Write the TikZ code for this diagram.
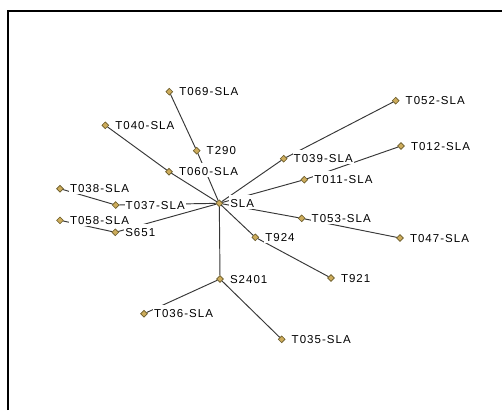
\documentclass[tikz,border=0pt]{standalone}
\usepackage{fontspec}
\newfontfamily\tagfont[LetterSpace=9]{Liberation Sans}
\usetikzlibrary{positioning, shapes.geometric, backgrounds}
\definecolor{dotfill}{RGB}{205,172,92}
\definecolor{dotline}{RGB}{105,90,40}
\definecolor{linkgray}{RGB}{55,55,55}

\begin{document}
\begin{tikzpicture}[
    x=1pt, y=-1pt,
    dot/.style={diamond, draw=dotline, fill=dotfill, line width=0.6pt,
                minimum size=7pt, inner sep=0pt},
    tag/.style={anchor=base west, yshift=-4.2pt, fill=white,
                font=\tagfont\fontsize{11.5}{12}\selectfont,
                inner xsep=1pt, inner ysep=0.5pt,
                text height=12pt, text depth=0.5pt},
    link/.style={draw=linkgray, line width=0.95pt}
  ]
  \useasboundingbox (0,0) rectangle (502,410);
  \draw[line width=2pt] (7.7,410) -- (7.7,11) -- (502,11);

  \node[dot] (sla)   at (219.3,203.3) {};
  \node[dot] (t069)  at (169.3,91.7)  {};
  \node[dot] (t040)  at (105.3,125.3) {};
  \node[dot] (t290)  at (196.7,150.7) {};
  \node[dot] (t060)  at (169,171.7)   {};
  \node[dot] (t038)  at (60,188.7)    {};
  \node[dot] (t037)  at (115.7,205)   {};
  \node[dot] (t058)  at (60,220.3)    {};
  \node[dot] (s651)  at (115.3,232.3) {};
  \node[dot] (t052)  at (395.7,100.7) {};
  \node[dot] (t012)  at (401,146)     {};
  \node[dot] (t039)  at (283.7,158.7) {};
  \node[dot] (t011)  at (304.3,179.7) {};
  \node[dot] (t053)  at (301.7,218.3) {};
  \node[dot] (t047)  at (400,238)     {};
  \node[dot] (t924)  at (255.3,237.3) {};
  \node[dot] (t921)  at (331,278)     {};
  \node[dot] (s2401) at (220,279)     {};
  \node[dot] (t036)  at (144,313.7)   {};
  \node[dot] (t035)  at (281.7,339.3) {};

  % links sit under the dots and the white label boxes
  \begin{pgfonlayer}{background}
    \path[link] (t069) -- (t290) -- (sla);
    \path[link] (t040) -- (t060) -- (sla);
    \path[link] (t038) -- (t037) -- (sla);
    \path[link] (t058) -- (s651) -- (sla);
    \path[link] (t052) -- (t039) -- (sla);
    \path[link] (t012) -- (t011) -- (sla);
    \path[link] (t047) -- (t053) -- (sla);
    \path[link] (t921) -- (t924) -- (sla);
    \path[link] (sla) -- (s2401);
    \path[link] (s2401) -- (t036);
    \path[link] (s2401) -- (t035);
  \end{pgfonlayer}

  \node[right=6pt of sla, tag]   (sla-tag)   {SLA};
  \node[right=5pt of t069, tag]  (t069-tag)  {T069-SLA};
  \node[right=5pt of t040, tag]  (t040-tag)  {T040-SLA};
  \node[right=5pt of t290, tag]  (t290-tag)  {T290};
  \node[right=5pt of t060, tag]  (t060-tag)  {T060-SLA};
  \node[right=5pt of t038, tag]  (t038-tag)  {T038-SLA};
  \node[right=5pt of t037, tag]  (t037-tag)  {T037-SLA};
  \node[right=5pt of t058, tag]  (t058-tag)  {T058-SLA};
  \node[right=5pt of s651, tag]  (s651-tag)  {S651};
  \node[right=5pt of t052, tag]  (t052-tag)  {T052-SLA};
  \node[right=5pt of t012, tag]  (t012-tag)  {T012-SLA};
  \node[right=5pt of t039, tag]  (t039-tag)  {T039-SLA};
  \node[right=5pt of t011, tag]  (t011-tag)  {T011-SLA};
  \node[right=5pt of t053, tag]  (t053-tag)  {T053-SLA};
  \node[right=5pt of t047, tag]  (t047-tag)  {T047-SLA};
  \node[right=5pt of t924, tag]  (t924-tag)  {T924};
  \node[right=5pt of t921, tag]  (t921-tag)  {T921};
  \node[right=5pt of s2401, tag] (s2401-tag) {S2401};
  \node[right=5pt of t036, tag]  (t036-tag)  {T036-SLA};
  \node[right=5pt of t035, tag]  (t035-tag)  {T035-SLA};
\end{tikzpicture}
\end{document}
